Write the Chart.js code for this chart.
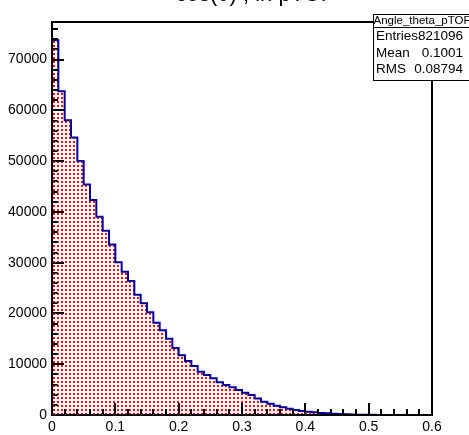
<!DOCTYPE html>
<html>
<head>
<meta charset="utf-8">
<script src="https://cdn.jsdelivr.net/npm/chart.js@4.4.1/dist/chart.umd.min.js"></script>
<style>
html,body{margin:0;padding:0;background:#fff;}
#wrap{width:469px;height:435px;position:relative;}
</style>
</head>
<body>
<div id="wrap"><canvas id="c" width="469" height="435"></canvas></div>
<script>
// ---- data ----
const histName = "Angle_theta_pTOF";
const histTitle = "cos(\u03b8) , in pTOF";
const binWidth = 0.01;
const binLow = 0.0;
const counts = [
  73820, 63780, 58070, 54660, 50000, 45410, 42320, 39040, 36280, 33600,
  30060, 28210, 26380, 23680, 21990, 20220, 18170, 16670, 15020, 13190,
  11750, 10630, 9650, 8520, 7870, 7220, 6440, 5910, 5450, 4920,
  4390, 3940, 3250, 2620, 2220, 1830, 1520, 1240, 980, 790,
  650, 530, 390, 330, 250, 200, 150, 100, 70, 40,
  25, 0, 0, 0, 0, 0, 0, 0, 0, 0
];
const xTickValues = [0, 0.1, 0.2, 0.3, 0.4, 0.5, 0.6];
const xTickLabels = ["0", "0.1", "0.2", "0.3", "0.4", "0.5", "0.6"];
const yTickValues = [0, 10000, 20000, 30000, 40000, 50000, 60000, 70000];
const yTickLabels = ["0", "10000", "20000", "30000", "40000", "50000", "60000", "70000"];
const statLabels = ["Entries", "Mean", "RMS"];
const statValues = ["821096", "0.1001", "0.08794"];
const xMin = 0, xMax = 0.6;
const yMin = 0, yMax = 77400;

// ---- build step points ----
const pts = [{x: binLow, y: 0}];
counts.forEach((v, i) => pts.push({x: binLow + i * binWidth, y: v}));
pts.push({x: binLow + counts.length * binWidth, y: counts[counts.length - 1]});
pts.push({x: binLow + counts.length * binWidth, y: 0});

const canvas = document.getElementById('c');
const ctx = canvas.getContext('2d');
const pc = document.createElement('canvas');
pc.width = 4; pc.height = 4;
const pg = pc.getContext('2d');
pg.fillStyle = '#ffffff'; pg.fillRect(0, 0, 4, 4);
pg.fillStyle = '#ff0000'; pg.fillRect(1, 1, 2, 2);
const dotPattern = ctx.createPattern(pc, 'repeat');

const FONT = "'Liberation Sans', Arial, Helvetica, sans-serif";

const rootDecor = {
  id: 'rootDecor',
  afterDatasetsDraw(chart) {
    const c = chart.ctx, a = chart.chartArea;
    const xs = chart.scales.x, ys = chart.scales.y;
    c.save();
    c.strokeStyle = '#000'; c.lineWidth = 2;
    c.beginPath();
    c.rect(a.left, a.top, a.right - a.left, a.bottom - a.top);
    c.stroke();
    c.beginPath();
    for (let i = 0; i <= 30; i++) {
      const v = xMin + i * 0.02;
      const px = Math.round(xs.getPixelForValue(v));
      const len = (i % 5 === 0) ? 12 : 6;
      c.moveTo(px, a.bottom); c.lineTo(px, a.bottom - len);
    }
    for (let v = 0; v <= yMax; v += 2000) {
      const py = Math.round(ys.getPixelForValue(v));
      const len = (v % 10000 === 0) ? 12 : 6;
      c.moveTo(a.left, py); c.lineTo(a.left + len, py);
    }
    c.stroke();
    c.restore();
  },
  afterDraw(chart) {
    const c = chart.ctx;
    c.save();
    c.fillStyle = '#000';
    c.font = "22px " + FONT;
    c.textAlign = 'center'; c.textBaseline = 'alphabetic';
    c.fillText(histTitle, 255, 1);
    const bx = 373.5, by = 14.5, bw = 96, bh = 66;
    c.fillStyle = '#fff';
    c.fillRect(bx, by, bw, bh);
    c.strokeStyle = '#000'; c.lineWidth = 1;
    c.strokeRect(bx, by, bw, bh);
    c.beginPath(); c.moveTo(bx, 27.5); c.lineTo(bx + bw, 27.5); c.stroke();
    c.fillStyle = '#000';
    c.font = "11.5px " + FONT;
    c.textAlign = 'center'; c.textBaseline = 'middle';
    c.fillText(histName, 422, 21);
    c.font = "13.5px " + FONT;
    const rowsY = [36.5, 53, 69.5];
    statLabels.forEach((lab, i) => {
      c.textAlign = 'left';
      c.fillText(lab, 376, rowsY[i]);
      c.textAlign = 'right';
      c.fillText(statValues[i], 463, rowsY[i]);
    });
    c.restore();
  }
};

new Chart(ctx, {
  type: 'line',
  data: {
    datasets: [{
      data: pts,
      stepped: true,
      fill: 'origin',
      backgroundColor: dotPattern,
      borderColor: '#000099',
      borderWidth: 2,
      pointRadius: 0,
      tension: 0
    }]
  },
  options: {
    responsive: false,
    animation: false,
    devicePixelRatio: 1,
    layout: { padding: { top: 22, right: 37, left: 0, bottom: 0 } },
    plugins: { legend: { display: false }, tooltip: { enabled: false }, title: { display: false } },
    scales: {
      x: {
        type: 'linear', min: xMin, max: xMax,
        grid: { display: false, drawTicks: false },
        border: { display: false },
        afterFit(s) { s.height = 20; },
        afterBuildTicks(s) { s.ticks = xTickValues.map(v => ({value: v})); },
        ticks: {
          autoSkip: false, maxRotation: 0,
          padding: 4, color: '#000', font: { family: FONT, size: 14 },
          callback: (v, i) => xTickLabels[i]
        }
      },
      y: {
        type: 'linear', min: yMin, max: yMax,
        grid: { display: false, drawTicks: false },
        border: { display: false },
        afterFit(s) { s.width = 52; },
        afterBuildTicks(s) { s.ticks = yTickValues.map(v => ({value: v})); },
        ticks: {
          autoSkip: false, padding: 5, color: '#000',
          font: { family: FONT, size: 14 },
          callback: (v, i) => yTickLabels[i]
        }
      }
    }
  },
  plugins: [rootDecor]
});
</script>
</body>
</html>
